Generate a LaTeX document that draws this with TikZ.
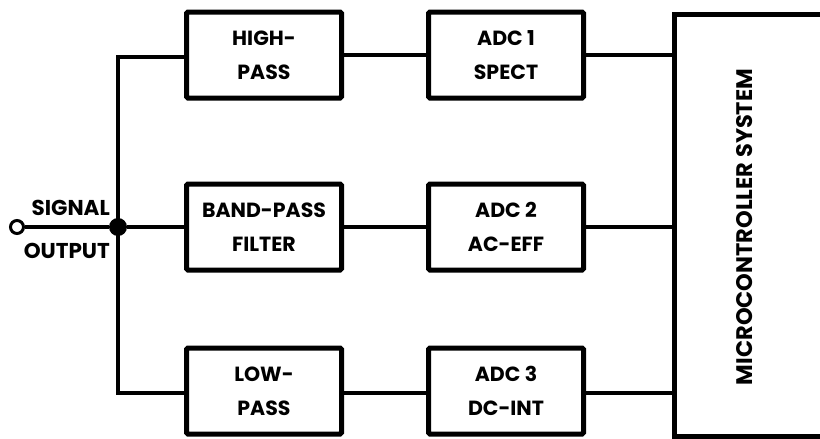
\documentclass[tikz,border=0pt]{standalone}
\usepackage{fontspec}
\setmainfont{Poppins}
\begin{document}
\begin{tikzpicture}[x=1pt,y=-1pt,
  blk/.style={draw,line width=5pt,rounded corners=1.5pt,minimum width=155pt,minimum height=86pt,inner sep=0pt,align=center,font=\fontsize{20.5}{34}\selectfont\bfseries},
  wire/.style={line width=3.5pt},
  lbl/.style={font=\fontsize{21.5}{24}\selectfont\bfseries,inner sep=0pt}]
\useasboundingbox (0,0) rectangle (820,439);
% MCU box
\draw[line width=5pt] (860,14) -- (674.5,14) -- (674.5,436.5) -- (860,436.5);
\node[lbl,rotate=90,font=\fontsize{22.5}{24}\selectfont\bfseries] (mcutxt) at (745,227) {MICROCONTROLLER SYSTEM};
\coordinate (mcuT) at (672,55);
\coordinate (mcuM) at (672,227);
\coordinate (mcuB) at (672,393);
% blocks
\node[blk] (hp) at (264,55) {HIGH-\\PASS};
\node[blk] (adc1) at (506,55) {ADC 1\\SPECT};
\node[blk] (bp) at (264,227) {BAND-PASS\\FILTER};
\node[blk] (adc2) at (506,227) {ADC 2\\AC-EFF};
\node[blk] (lp) at (264,391) {LOW-\\PASS};
\node[blk] (adc3) at (506,391) {ADC 3\\DC-INT};
% input
\node[draw,circle,line width=3pt,fill=white,minimum size=13pt,inner sep=0pt] (in) at (17,227) {};
\node[circle,fill,minimum size=18pt,inner sep=0pt] (jn) at (118,227) {};
\coordinate (busT) at (118,57);
\coordinate (busB) at (118,393);
\draw[wire] (in) -- (jn);
\draw[wire] (jn) -- (bp);
\draw[wire] (hp.west |- busT) -- (busT) -- (busB) -- (lp.west |- busB);
\draw[wire] (hp) -- (adc1);
\draw[wire] (bp) -- (adc2);
\draw[wire] (lp.east |- busB) -- (adc3.west |- busB);
\draw[wire] (adc1) -- (mcuT);
\draw[wire] (adc2) -- (mcuM);
\draw[wire] (adc3.east |- mcuB) -- (mcuB);
\node[lbl,anchor=base east] (sig) at (110,215) {SIGNAL};
\node[lbl,anchor=base east] (out) at (110,258) {OUTPUT};
\end{tikzpicture}
\end{document}
